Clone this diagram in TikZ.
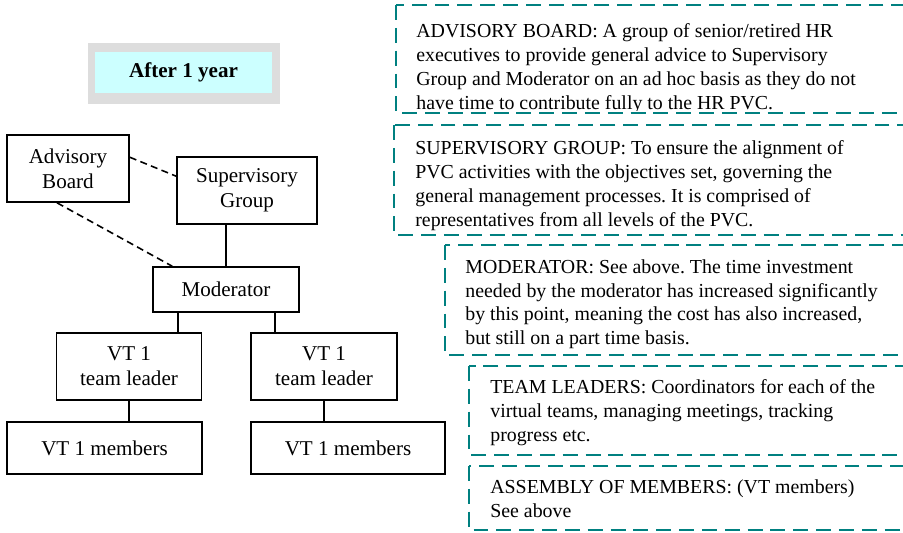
\documentclass[tikz,border=0pt]{standalone}
\usepackage{fontspec}
\setmainfont{Liberation Serif}
\usetikzlibrary{calc}
\definecolor{noteteal}{RGB}{0,128,128}
\definecolor{yearcyan}{RGB}{204,255,255}
\definecolor{yeargray}{RGB}{221,221,221}
\tikzset{
	unit/.style={draw,line width=0.9pt,align=center,inner sep=0pt,font=\fontsize{12}{14.2}\selectfont},
	link/.style={line width=1pt},
	advlink/.style={line width=0.9pt,dash pattern=on 4pt off 2.5pt},
	notebox/.style={draw=noteteal,line width=1.1pt,dash pattern=on 8.5pt off 4.5pt},
	notetext/.style={anchor=north west,align=left,inner sep=0pt,font=\fontsize{11.3}{13.6}\selectfont\frenchspacing}
}

\begin{document}
\begin{tikzpicture}[line join=miter,x=0.02cm,y=-0.02cm]
	\useasboundingbox (0,0) rectangle (903,532);
	\clip (0,0) rectangle (903,532);
	% heading box
	\fill[yeargray] (88,43) rectangle (280,104);
	\node[fill=yearcyan,minimum width=3.54cm,minimum height=0.82cm,inner sep=0pt,font=\fontsize{12}{14}\selectfont\bfseries] (year) at (183.5,72.5) {After 1 year};
	% structure
	\node[unit,minimum width=2.44cm,minimum height=1.34cm] (adv) at (68,168.5) {Advisory\\Board};
	\node[unit,minimum width=2.8cm,minimum height=1.34cm] (sup) at (247,190.5) {Supervisory\\Group};
	\node[unit,minimum width=2.92cm,minimum height=0.9cm] (mod) at (226,289.5) {Moderator};
	\node[unit,minimum width=2.9cm,minimum height=1.34cm] (tlA) at (129,366.5) {VT 1\\team leader};
	\node[unit,minimum width=2.92cm,minimum height=1.34cm] (tlB) at (324,366.5) {VT 1\\team leader};
	\node[unit,minimum width=3.9cm,minimum height=1.04cm] (memA) at (104.5,448) {VT 1 members};
	\node[unit,minimum width=3.88cm,minimum height=1.04cm] (memB) at (348,448) {VT 1 members};
	\draw[link] (sup.south -| mod.north) -- (mod.north);
	\draw[link] ($(mod.south)+(-48,0)$) coordinate (mA) -- (mA |- tlA.north);
	\draw[link] ($(mod.south)+(49,0)$) coordinate (mB) -- (mB |- tlB.north);
	\draw[link] (tlA.south) -- (tlA.south |- memA.north);
	\draw[link] (tlB.south) -- (tlB.south |- memB.north);
	\draw[advlink] ($(adv.north east)+(0,23)$) -- ($(sup.north west)+(0,20)$);
	\draw[advlink] ($(adv.south)+(-11,0)$) -- ($(mod.north west)+(20,0)$);
	% notes
	\draw[notebox] (396,5) rectangle (920,113);
	\begin{scope}
		\clip (396,5) rectangle (920,110);
		\node[notetext] (advnote) at (416,23) {ADVISORY BOARD: A group of senior/retired HR\\executives to provide general advice to Supervisory\\Group and Moderator on an ad hoc basis as they do not\\have time to contribute fully to the HR PVC.};
	\end{scope}
	\draw[notebox] (394,125) rectangle (920,235);
	\begin{scope}
		\clip (394,125) rectangle (920,231);
		\node[notetext] (supnote) at (415,140) {SUPERVISORY GROUP: To ensure the alignment of\\PVC activities with the objectives set, governing the\\general management processes. It is comprised of\\representatives from all levels of the PVC.};
	\end{scope}
	\draw[notebox] (445,245) rectangle (920,355);
	\node[notetext] (modnote) at (465,259) {MODERATOR: See above. The time investment\\needed by the moderator has increased significantly\\by this point, meaning the cost has also increased,\\but still on a part time basis.};
	\draw[notebox] (469,366) rectangle (920,455);
	\node[notetext] (tlnote) at (490,379) {TEAM LEADERS: Coordinators for each of the\\virtual teams, managing meetings, tracking\\progress etc.};
	\draw[notebox] (469,466) rectangle (920,530);
	\node[notetext] (memnote) at (490,479) {ASSEMBLY OF MEMBERS: (VT members)\\See above};
\end{tikzpicture}
\end{document}
